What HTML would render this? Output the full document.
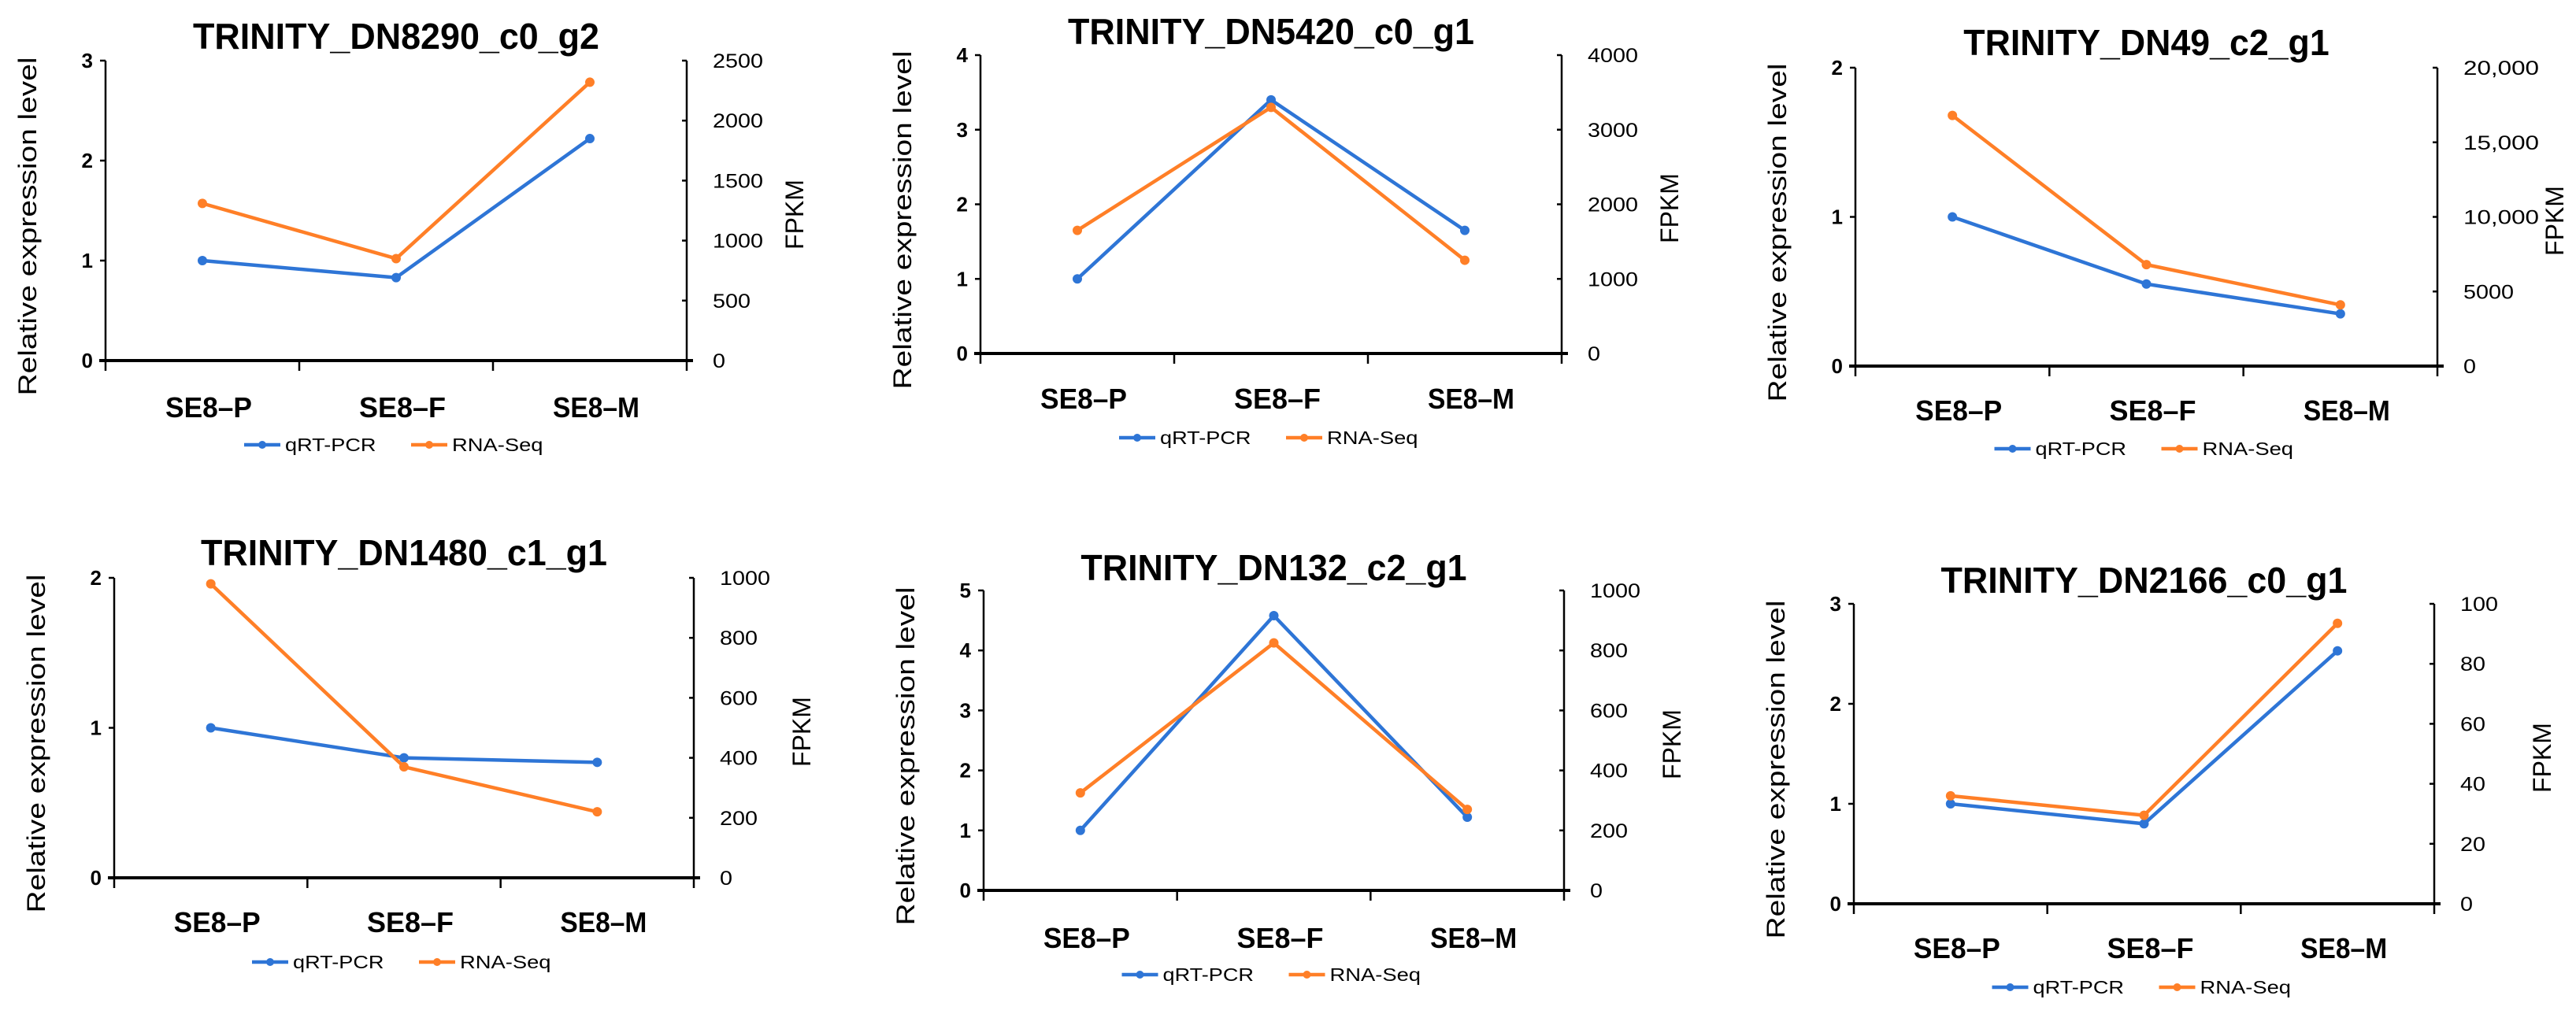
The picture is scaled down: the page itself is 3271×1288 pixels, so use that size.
<!DOCTYPE html>
<html><head><meta charset="utf-8"><style>
html,body{margin:0;padding:0;background:#fff;}
svg{display:block;}
text{font-family:"Liberation Sans",sans-serif;fill:#000;}
</style></head>
<body>
<svg id="fig" width="3271" height="1288" viewBox="0 0 3271 1288" xmlns="http://www.w3.org/2000/svg"></svg>
<script>
// ---- data ----
const categories = ["SE8\u2013P", "SE8\u2013F", "SE8\u2013M"];
const seriesNames = ["qRT-PCR", "RNA-Seq"];
const titles = ["TRINITY_DN8290_c0_g2","TRINITY_DN5420_c0_g1","TRINITY_DN49_c2_g1","TRINITY_DN1480_c1_g1","TRINITY_DN132_c2_g1","TRINITY_DN2166_c0_g1"];
const qpcrValues = [[1,0.83,2.22],[1,3.4,1.65],[1,0.55,0.35],[1,0.8,0.77],[1,4.58,1.22],[1,0.8,2.53]];
const rnaseqValues = [[1310,850,2320],[1650,3300,1250],[16800,6800,4100],[980,370,220],[325,825,270],[36,29.5,93.5]];
const leftMax = [3,4,2,2,5,3];
const rightMax = [2500,4000,20000,1000,1000,100];
const rightStep = [500,1000,5000,200,200,20];
const leftTickLabels = [["0","1","2","3"],["0","1","2","3","4"],["0","1","2"],["0","1","2"],["0","1","2","3","4","5"],["0","1","2","3"]];
const rightTickLabels = [["0","500","1000","1500","2000","2500"],["0","1000","2000","3000","4000"],["0","5000","10,000","15,000","20,000"],["0","200","400","600","800","1000"],["0","200","400","600","800","1000"],["0","20","40","60","80","100"]];

// ---- layout (pixels) ----
const layout = [
 {L:134,R:872,T:77,Z:458,ty:45,cy:517,ly:565,fx:136},
 {L:1245,R:1983,T:70,Z:449,ty:39,cy:506,ly:556,fx:136},
 {L:2356,R:3095,T:86,Z:465,ty:53,cy:521,ly:570,fx:148},
 {L:145,R:881,T:734,Z:1115,ty:701,cy:1171,ly:1222,fx:136},
 {L:1249,R:1986,T:750,Z:1131,ty:720,cy:1191,ly:1238,fx:136},
 {L:2354,R:3091,T:767,Z:1148,ty:736,cy:1204,ly:1254,fx:136}
];
const BLUE="#2E75D6", ORANGE="#FF7F27";
const NS="http://www.w3.org/2000/svg";
const svg=document.getElementById("fig");
function mk(tag,attrs,parent,txt){const e=document.createElementNS(NS,tag);for(const k in attrs)e.setAttribute(k,attrs[k]);if(txt!==undefined)e.textContent=txt;(parent||svg).appendChild(e);return e;}

layout.forEach((p,i)=>{
  const g=mk("g",{});
  
  
  const yL=v=>p.Z-(v/leftMax[i])*(p.Z-p.T);
  const yR=v=>p.Z-(v/rightMax[i])*(p.Z-p.T);
  const band=(p.R-p.L)/categories.length;
  const xC=k=>p.L+band*(k+0.5);
  const cx=(p.L+p.R)/2;

  const t=mk("text",{x:cx,y:p.ty+17,"text-anchor":"middle","font-size":46,"font-weight":"bold",textLength:titles[i].length*25.8,lengthAdjust:"spacingAndGlyphs"},g,titles[i]);
  
  

  // axes
  const al=mk("line",{x1:p.L,y1:p.T,x2:p.L,y2:p.Z,stroke:"#000","stroke-width":2.5},g);
  
  
  const ar=mk("line",{x1:p.R,y1:p.T,x2:p.R,y2:p.Z,stroke:"#000","stroke-width":2.5},g);
  
  
  const ax=mk("line",{x1:p.L-8,y1:p.Z,x2:p.R+8,y2:p.Z,stroke:"#000","stroke-width":4},g);
  
  
  for(let k=0;k<=categories.length;k++){
    const xx=p.L+band*k;
    mk("line",{x1:xx,y1:p.Z,x2:xx,y2:p.Z+13,stroke:"#000","stroke-width":2.5},g);
  }
  leftTickLabels[i].forEach((lab,k)=>{
    const y=yL(k);
    mk("line",{x1:p.L-7,y1:y,x2:p.L,y2:y,stroke:"#000","stroke-width":2.5},g);
    const tl=mk("text",{x:p.L-16,y:y+9,"text-anchor":"end","font-size":26,"font-weight":"bold"},g,lab);
    
    
  });
  rightTickLabels[i].forEach((lab,k)=>{
    const y=yR(k*rightStep[i]);
    mk("line",{x1:p.R-6,y1:y,x2:p.R,y2:y,stroke:"#000","stroke-width":2.5},g);
    const tl=mk("text",{x:p.R+33,y:y+9,"font-size":25,textLength:lab.length*16,lengthAdjust:"spacingAndGlyphs"},g,lab);
    
    
  });
  categories.forEach((c,k)=>{
    const cl=mk("text",{x:xC(k)+8,y:p.cy+13,"text-anchor":"middle","font-size":36,"font-weight":"bold",textLength:110,lengthAdjust:"spacingAndGlyphs"},g,c);
    
    
  });
  const ylc=(p.T+p.Z)/2+20, ylx=p.L-100;
  const yl=mk("text",{x:ylx,y:ylc,"text-anchor":"middle","font-size":32,transform:`rotate(-90 ${ylx} ${ylc}) translate(0 12)`,textLength:430,lengthAdjust:"spacingAndGlyphs"},g,"Relative expression level");
  
  
  const fx=p.R+p.fx, fy=(p.T+p.Z)/2+5;
  const fl=mk("text",{x:fx,y:fy,"text-anchor":"middle","font-size":32,transform:`rotate(-90 ${fx} ${fy}) translate(0 12)`},g,"FPKM");
  
  

  // series
  [[qpcrValues[i],yL,BLUE,"qrt-pcr"],[rnaseqValues[i],yR,ORANGE,"rna-seq"]].forEach(([vals,sc,col,nm])=>{
    const pts=vals.map((v,k)=>xC(k)+","+sc(v)).join(" ");
    const pl=mk("polyline",{points:pts,fill:"none",stroke:col,"stroke-width":4.5,"stroke-linejoin":"round"},g);
    
    
    vals.forEach((v,k)=>{
      const c=mk("circle",{cx:xC(k),cy:sc(v),r:6,fill:col},g);
      
      
    });
  });

  // legend
  [[BLUE,seriesNames[0],-193,"legend-qrt-pcr"],[ORANGE,seriesNames[1],19,"legend-rna-seq"]].forEach(([col,name,off,nm])=>{
    const lg=mk("g",{},g);
    
    
    mk("line",{x1:cx+off,y1:p.ly,x2:cx+off+46,y2:p.ly,stroke:col,"stroke-width":4.5},lg);
    mk("circle",{cx:cx+off+23,cy:p.ly,r:5,fill:col},lg);
    mk("text",{x:cx+off+52,y:p.ly+8,"font-size":23,fill:"#222",textLength:name.length*16.5,lengthAdjust:"spacingAndGlyphs"},lg,name);
  });
});
</script>
</body></html>
